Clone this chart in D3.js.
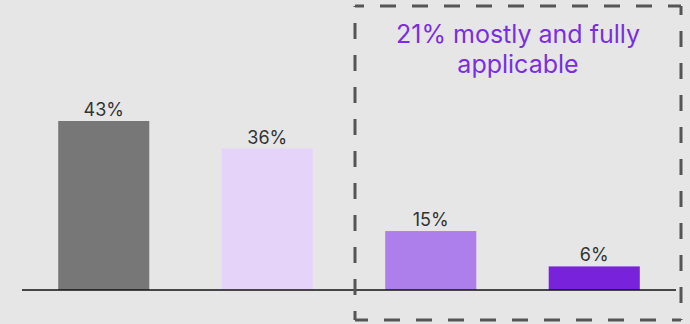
<!DOCTYPE html>
<html>
<head>
<meta charset="utf-8">
<script src="https://cdn.jsdelivr.net/npm/d3@7"></script>
<style>
  html, body { margin: 0; padding: 0; background: #e6e6e6; }
  svg { display: block; }
</style>
</head>
<body>
<svg id="chart" width="690" height="324"></svg>
<script>
// Response categories and their shares (%)
const categories = ["Not applicable", "Slightly applicable", "Mostly applicable", "Fully applicable"];
const values = [43, 36, 15, 6];
const barColors = ["#777777", "#e6d3fa", "#ad7fea", "#7822dc"];
const highlightLines = ["21% mostly and fully", "applicable"];

const W = 690, H = 324;
const svg = d3.select("#chart");

svg.append("rect").attr("width", W).attr("height", H).attr("fill", "#e6e6e6");

const baseY = 290;
const x = d3.scaleBand()
  .domain(categories)
  .range([22, 676])
  .paddingInner(0.443)
  .paddingOuter(0.2215);

const y = d3.scaleLinear()
  .domain([0, 43])
  .range([baseY, 121]);

// Bars
svg.append("g").selectAll("rect")
  .data(values)
  .join("rect")
  .attr("x", (d, i) => x(categories[i]))
  .attr("y", d => y(d))
  .attr("width", x.bandwidth())
  .attr("height", d => baseY - y(d))
  .attr("fill", (d, i) => barColors[i]);

// Value labels
svg.append("g").selectAll("text")
  .data(values)
  .join("text")
  .attr("x", (d, i) => x(categories[i]) + x.bandwidth() / 2)
  .attr("y", d => y(d) - 5)
  .attr("text-anchor", "middle")
  .attr("font-family", "Inter, 'Open Sans', sans-serif")
  .attr("font-size", 18)
  .attr("fill", "#333333")
  .text(d => d + "%");

// Baseline
svg.append("line")
  .attr("x1", 22).attr("x2", 676)
  .attr("y1", baseY).attr("y2", baseY)
  .attr("stroke", "#111111")
  .attr("stroke-width", 1.5);

// Dashed frame around the last two categories
const box = { x0: 355, x1: 681, y0: 6, y1: 320 };
const sides = [
  [box.x0, box.y0, box.x1, box.y0],
  [box.x1, box.y0, box.x1, box.y1],
  [box.x1, box.y1, box.x0, box.y1],
  [box.x0, box.y1, box.x0, box.y0]
];
svg.append("g").selectAll("line")
  .data(sides)
  .join("line")
  .attr("x1", d => d[0]).attr("y1", d => d[1])
  .attr("x2", d => d[2]).attr("y2", d => d[3])
  .attr("stroke", "#555555")
  .attr("stroke-width", 3)
  .attr("stroke-dasharray", "16,16")
  .attr("stroke-dashoffset", 7);

// Highlight annotation
const cx = (box.x0 + box.x1) / 2;
svg.append("g").selectAll("text")
  .data(highlightLines)
  .join("text")
  .attr("x", cx)
  .attr("y", (d, i) => 43 + i * 30)
  .attr("text-anchor", "middle")
  .attr("font-family", "Inter, 'Open Sans', sans-serif")
  .attr("font-size", 25)
  .attr("fill", "#7b2ee0")
  .text(d => d);
</script>
</body>
</html>
